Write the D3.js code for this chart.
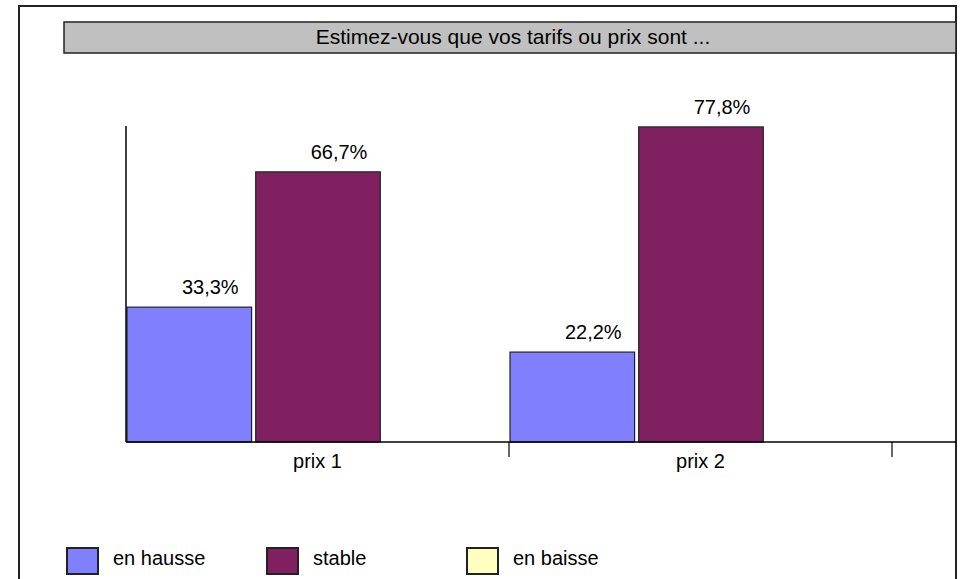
<!DOCTYPE html>
<meta charset="utf-8">
<style>
  body { margin: 0; background: #fff; }
  text { font-family: "Liberation Sans", Arial, sans-serif; fill: #000; }
</style>
<svg width="960" height="579"></svg>
<script src="https://d3js.org/d3.v7.min.js"></script>
<script>

var title = "Estimez-vous que vos tarifs ou prix sont ..."
var categories = ["prix 1", "prix 2"]
var seriesNames = ["en hausse", "stable", "en baisse"]
var seriesColors = ["#8080ff", "#802060", "#ffffc0"]
// percentages, one array per series, in category order
var enHausse = [33.3, 22.2]
var stable = [66.7, 77.8]
var enBaisse = [0, 0]
var seriesValues = [enHausse, stable, enBaisse]

var fontSize = 20
var svg = d3.select("svg")

// outer frame
svg.append("rect")
  .attr("x", 19).attr("y", 6)
  .attr("width", 937).attr("height", 600)
  .attr("fill", "none").attr("stroke", "#222").attr("stroke-width", 2)

// title bar
svg.append("rect")
  .attr("x", 64).attr("y", 22)
  .attr("width", 892).attr("height", 31)
  .attr("fill", "#c0c0c0").attr("stroke", "#222").attr("stroke-width", 1.5)

svg.append("text")
  .attr("x", 513).attr("y", 44)
  .attr("text-anchor", "middle")
  .attr("font-size", 21)
  .text(title)

var x0 = d3.scaleBand()
  .domain(categories)
  .range([126, 892])
  .padding(0)

var x1 = d3.scaleBand()
  .domain(seriesNames)
  .range([1, x0.bandwidth()])
  .paddingInner(0.032)
  .paddingOuter(0)

var y = d3.scaleLinear()
  .domain([0, 100])
  .range([442, 37])

var rows = []
seriesNames.forEach(function (s, i) {
  categories.forEach(function (c, j) {
    rows.push({ series: s, color: seriesColors[i], cat: c, value: seriesValues[i][j] })
  })
})

// bars
svg.append("g")
  .selectAll("rect")
  .data(rows.filter(function (d) { return d.value > 0 }))
  .enter().append("rect")
    .attr("x", function (d) { return x0(d.cat) + x1(d.series) })
    .attr("y", function (d) { return y(d.value) })
    .attr("width", x1.bandwidth())
    .attr("height", function (d) { return y(0) - y(d.value) })
    .attr("fill", function (d) { return d.color })
    .attr("stroke", "#222")
    .attr("stroke-width", 1.2)

// value labels
svg.append("g")
  .selectAll("text")
  .data(rows.filter(function (d) { return d.value > 0 }))
  .enter().append("text")
    .attr("x", function (d) { return x0(d.cat) + x1(d.series) + x1.bandwidth() / 2 + 21 })
    .attr("y", function (d) { return y(d.value) - 13 })
    .attr("text-anchor", "middle")
    .attr("font-size", fontSize)
    .text(function (d) { return d3.format(".1f")(d.value).replace(".", ",") + "%" })

// y axis line (no ticks)
svg.append("line")
  .attr("x1", 126).attr("x2", 126)
  .attr("y1", y(78)).attr("y2", y(0))
  .attr("stroke", "#000").attr("stroke-width", 1.5)

// x axis
var xAxis = d3.axisBottom(x0).tickSize(0).tickPadding(12)
var gx = svg.append("g")
  .attr("transform", "translate(0," + y(0) + ")")
  .call(xAxis)
gx.select(".domain").remove()
gx.selectAll("text").attr("font-size", fontSize).attr("font-family", "Liberation Sans, Arial, sans-serif").attr("fill", "#000")

svg.append("line")
  .attr("x1", 126).attr("x2", 956)
  .attr("y1", y(0)).attr("y2", y(0))
  .attr("stroke", "#000").attr("stroke-width", 1.5)

// category separators
svg.append("g")
  .selectAll("line")
  .data(categories)
  .enter().append("line")
    .attr("x1", function (c) { return x0(c) + x0.bandwidth() })
    .attr("x2", function (c) { return x0(c) + x0.bandwidth() })
    .attr("y1", y(0)).attr("y2", y(0) + 15)
    .attr("stroke", "#000").attr("stroke-width", 1.2)

// legend
var legend = svg.append("g")
  .selectAll("g")
  .data(seriesNames)
  .enter().append("g")
    .attr("transform", function (d, i) { return "translate(" + (67 + i * 200) + ",548)" })

legend.append("rect")
  .attr("width", 31).attr("height", 26)
  .attr("fill", function (d, i) { return seriesColors[i] })
  .attr("stroke", "#222").attr("stroke-width", 2)

legend.append("text")
  .attr("x", 46).attr("y", 17)
  .attr("font-size", fontSize)
  .text(function (d) { return d })

</script>
